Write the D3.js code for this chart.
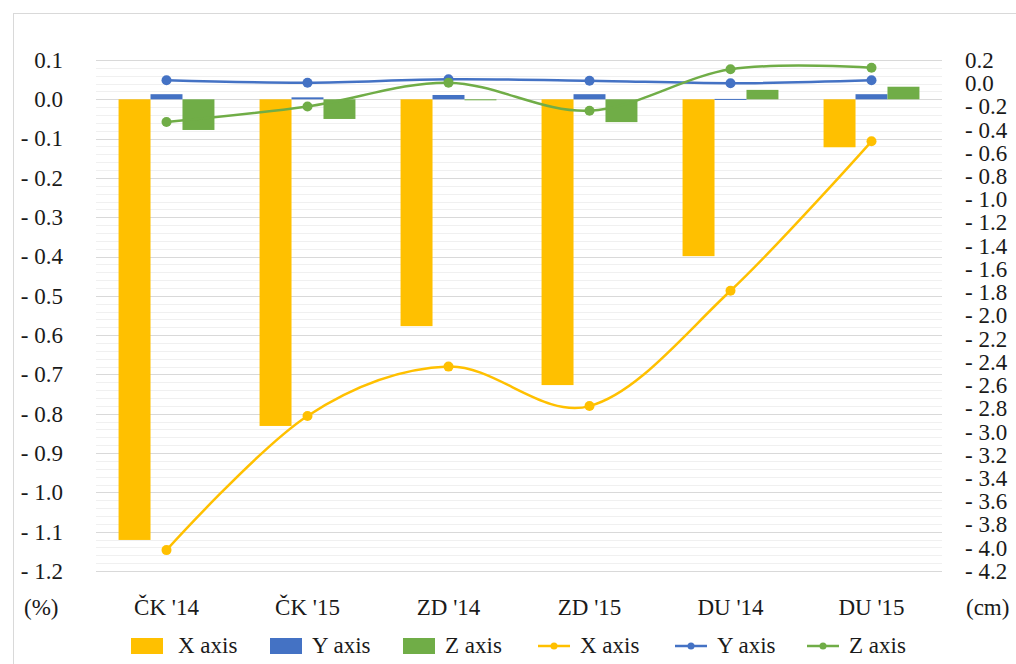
<!DOCTYPE html>
<html>
<head>
<meta charset="utf-8">
<script src="https://cdn.jsdelivr.net/npm/d3@7"></script>
<style>
  body { margin: 0; background: #fff; }
  svg text { font-family: "Liberation Serif", "Times New Roman", Times, serif; fill: #1a1a1a; }
</style>
</head>
<body>
<div id="chart"></div>
<script>
// categories
var categories = ["ČK '14", "ČK '15", "ZD '14", "ZD '15", "DU '14", "DU '15"];

// bars, left axis (%)
var barX = [-1.121, -0.831, -0.577, -0.727, -0.399, -0.122];
var barY = [0.013, 0.005, 0.011, 0.013, 0.001, 0.013];
var barZ = [-0.078, -0.050, -0.001, -0.058, 0.024, 0.032];

// lines, right axis (cm)
var lineX = [-4.02, -2.865, -2.44, -2.78, -1.787, -0.50];
var lineY = [0.025, 0.004, 0.034, 0.022, 0.000, 0.025];
var lineZ = [-0.334, -0.20, 0.005, -0.237, 0.12, 0.134];

var leftTicks = d3.range(-12, 2).map(function(d) { return d / 10; });
var rightTicks = d3.range(-21, 2).map(function(d) { return d / 5; });
var minorTicks = d3.range(-60, 6).map(function(d) { return d / 50; });

var colours = { x: "#FFC000", y: "#4472C4", z: "#70AD47" };
var fontSize = "23px";

var W = 1016, H = 664;
var margin = { top: 60, right: 74, bottom: 93, left: 96 };
var width = W - margin.left - margin.right,
    height = H - margin.top - margin.bottom;

var svg = d3.select("#chart").append("svg")
    .attr("width", W)
    .attr("height", H);

// outer frame
svg.append("rect")
    .attr("x", 13.5).attr("y", 13.5)
    .attr("width", W).attr("height", H)
    .style("fill", "none")
    .style("stroke", "#d9d9d9");

var g = svg.append("g")
    .attr("transform", "translate(" + margin.left + "," + margin.top + ")");

var xScale = d3.scaleBand().domain(categories).range([0, width])
    .paddingInner(0.32).paddingOuter(0.16);
var xInner = d3.scaleBand().domain(["x", "y", "z"]).range([0, xScale.bandwidth()]);
var yLeft = d3.scaleLinear().domain([-1.2, 0.1]).range([height, 0]);
var yRight = d3.scaleLinear().domain([-4.2, 0.2]).range([height, 0]);

function fmt(v) {
    var s = d3.format(".1f")(Math.abs(v));
    return v < -1e-9 ? "- " + s : s;
}

// minor gridlines
g.selectAll(".minor").data(minorTicks).enter().append("line")
    .attr("x1", 0).attr("x2", width)
    .attr("y1", function(d) { return Math.round(yLeft(d)) + 0.5; })
    .attr("y2", function(d) { return Math.round(yLeft(d)) + 0.5; })
    .style("stroke", "#f0f0f0");

// major gridlines
g.selectAll(".major").data(leftTicks).enter().append("line")
    .attr("x1", 0).attr("x2", width)
    .attr("y1", function(d) { return Math.round(yLeft(d)) + 0.5; })
    .attr("y2", function(d) { return Math.round(yLeft(d)) + 0.5; })
    .style("stroke", "#d9d9d9");

// left axis labels
var yAxisL = d3.axisLeft(yLeft).tickValues(leftTicks).tickFormat(fmt).tickSize(0).tickPadding(33);
var la = g.append("g").call(yAxisL).attr("font-family", null).attr("font-size", null);
la.select(".domain").remove();
la.selectAll("text").style("font-size", fontSize).attr("fill", "#1a1a1a");

// right axis labels
var yAxisR = d3.axisRight(yRight).tickValues(rightTicks).tickFormat(fmt).tickSize(0).tickPadding(23);
var ra = g.append("g").attr("transform", "translate(" + width + ",0)").call(yAxisR)
    .attr("font-family", null).attr("font-size", null);
ra.select(".domain").remove();
ra.selectAll("text").style("font-size", fontSize).attr("fill", "#1a1a1a");

// category labels
var xa = g.append("g").attr("transform", "translate(0," + height + ")")
    .call(d3.axisBottom(xScale).tickSize(0).tickPadding(28))
    .attr("font-family", null).attr("font-size", null);
xa.select(".domain").remove();
xa.selectAll("text").style("font-size", fontSize).attr("fill", "#1a1a1a");

svg.append("text").attr("x", 24).attr("y", 615).style("font-size", fontSize).text("(%)");
svg.append("text").attr("x", 966).attr("y", 615).style("font-size", fontSize).text("(cm)");

// bars
var barSeries = [
    { key: "x", values: barX },
    { key: "y", values: barY },
    { key: "z", values: barZ }
];
barSeries.forEach(function(s) {
    g.selectAll(".bar-" + s.key).data(s.values).enter().append("rect")
        .attr("x", function(d, i) { return xScale(categories[i]) + xInner(s.key); })
        .attr("width", xInner.bandwidth())
        .attr("y", function(d) { return yLeft(Math.max(0, d)); })
        .attr("height", function(d) { return Math.max(1, Math.abs(yLeft(d) - yLeft(0))); })
        .style("fill", colours[s.key]);
});

// lines
var line = d3.line()
    .curve(d3.curveCardinal)
    .x(function(d, i) { return xScale(categories[i]) + xScale.bandwidth() / 2; })
    .y(function(d) { return yRight(d); });

var lineSeries = [
    { key: "x", values: lineX },
    { key: "y", values: lineY },
    { key: "z", values: lineZ }
];
lineSeries.forEach(function(s) {
    g.append("path")
        .attr("d", line(s.values))
        .style("fill", "none")
        .style("stroke", colours[s.key])
        .style("stroke-width", 2.5);
    g.selectAll(".pt-" + s.key).data(s.values).enter().append("circle")
        .attr("cx", function(d, i) { return xScale(categories[i]) + xScale.bandwidth() / 2; })
        .attr("cy", function(d) { return yRight(d); })
        .attr("r", 5)
        .style("fill", colours[s.key]);
});

// legend
var legendItems = [
    { label: "X axis", key: "x", type: "bar", x: 131 },
    { label: "Y axis", key: "y", type: "bar", x: 270 },
    { label: "Z axis", key: "z", type: "bar", x: 403 },
    { label: "X axis", key: "x", type: "line", x: 538 },
    { label: "Y axis", key: "y", type: "line", x: 675 },
    { label: "Z axis", key: "z", type: "line", x: 807 }
];
var legend = svg.append("g");
legendItems.forEach(function(it) {
    var lg = legend.append("g").attr("transform", "translate(" + it.x + ",646)");
    if (it.type === "bar") {
        lg.append("rect").attr("x", 0).attr("y", -8).attr("width", 32).attr("height", 16)
            .style("fill", colours[it.key]);
        lg.append("text").attr("x", it.key === "x" ? 47 : 42).attr("y", 7)
            .style("font-size", fontSize).text(it.label);
    } else {
        lg.append("line").attr("x1", 0).attr("x2", 32).attr("y1", 0).attr("y2", 0)
            .style("stroke", colours[it.key]).style("stroke-width", 2.5);
        lg.append("circle").attr("cx", 16).attr("cy", 0).attr("r", 3.5)
            .style("fill", colours[it.key]);
        lg.append("text").attr("x", 42).attr("y", 7)
            .style("font-size", fontSize).text(it.label);
    }
});
</script>
</body>
</html>
